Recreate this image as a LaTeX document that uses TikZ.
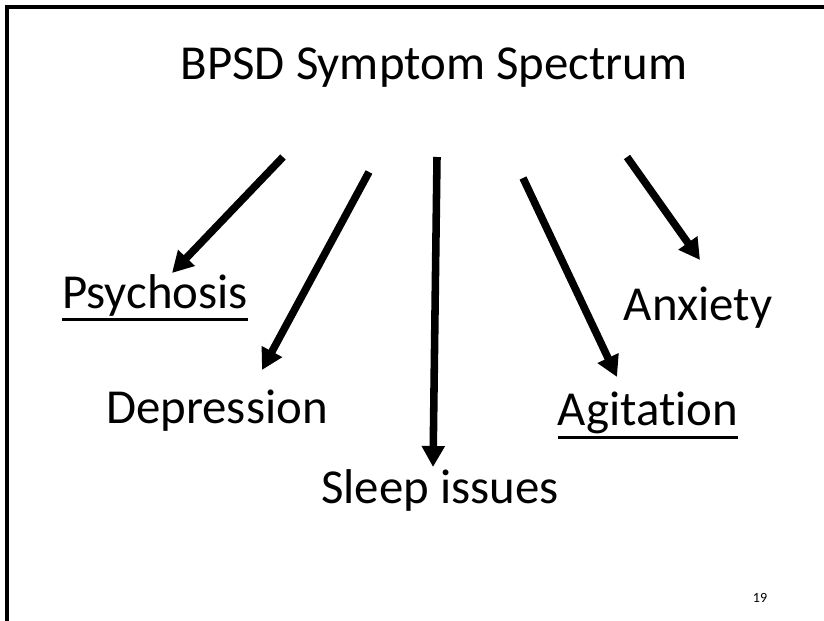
\documentclass[tikz,border=0pt]{standalone}
\usepackage{fontspec}
\setmainfont[RawFeature=-liga]{Carlito}
\usetikzlibrary{arrows.meta}

\begin{document}
\begin{tikzpicture}[x=0.02cm,y=-0.02cm,
  lbl/.style={font=\fontsize{27.8}{33}\selectfont, inner sep=0pt, anchor=base},
  uline/.style={line width=2pt},
  sym/.style={line width=4.3pt, -{Triangle[length=0.42cm,width=0.44cm]}}]
\useasboundingbox (0,0) rectangle (824,621);
\draw[line width=1.8pt] (7,621) -- (7,7) -- (824,7);
\node[lbl] (title) at (434,80) {BPSD Symptom Spectrum};
\node[lbl] (psy) at (155,308) {Psychosis};
\node[lbl] (dep) at (217,423) {Depression};
\node[lbl] (slp) at (440,503) {Sleep issues};
\node[lbl] (agi) at (648,425) {Agitation};
\node[lbl] (anx) at (698,320) {Anxiety};
\node[font=\fontsize{8}{10}\selectfont, inner sep=0pt, anchor=base] (pg) at (760,602) {19};
% underlines
\draw[uline] ([yshift=-2pt]psy.south west) -- ([yshift=-2pt]psy.south east);
\draw[uline] ([yshift=-2pt]agi.south west) -- ([yshift=-2pt]agi.south east);
% arrows from under the title
\foreach \n/\a/\b/\c/\d in {p/283/157/172/273, d/369/172/262/370, s/437/157/433/467, g/523/178/617/377, x/627/157/700/260} {
  \coordinate (\n0) at (\a,\b);
  \coordinate (\n1) at (\c,\d);
  \draw[sym] (\n0) -- (\n1);
}
\end{tikzpicture}
\end{document}
